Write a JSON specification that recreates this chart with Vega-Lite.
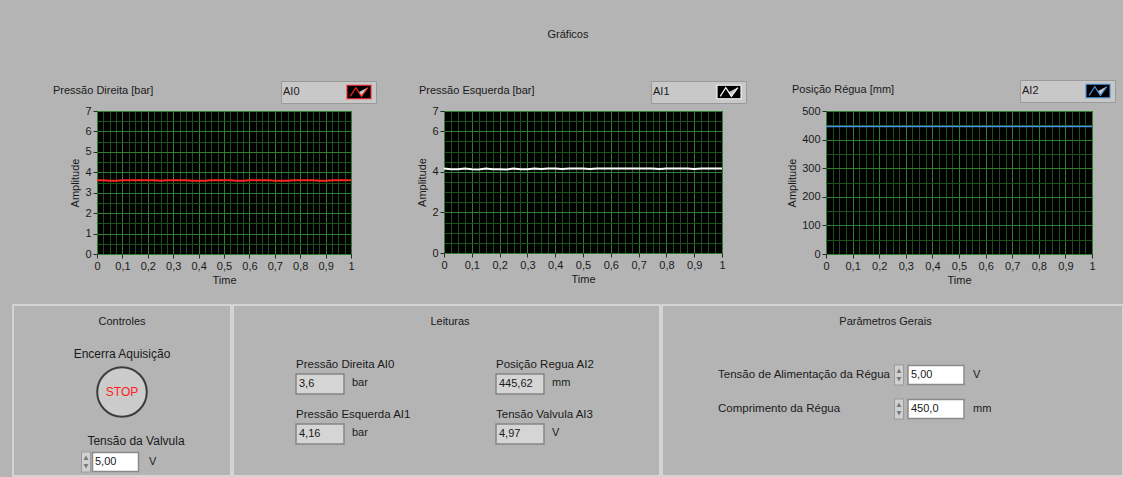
{
  "$schema": "https://vega.github.io/schema/vega-lite/v6.json",
  "background": "#b4b4b4",
  "padding": {"left": 12, "top": 28, "right": 0, "bottom": 0},
  "title": {"text": "Gráficos", "anchor": "middle", "offset": 40},
  "config": {
    "font": "Liberation Sans",
    "title": {"font": "Liberation Sans", "fontSize": 11, "fontWeight": "normal", "color": "#1a1a1a"},
    "axis": {"labelFont": "Liberation Sans", "labelFontSize": 11, "labelColor": "#1a1a1a", "titleFont": "Liberation Sans", "titleFontSize": 11, "titleFontWeight": "normal", "titleColor": "#1a1a1a", "domain": false, "tickColor": "#2a2a2a", "tickSize": 4, "labelPadding": 2},
    "legend": {"labelFont": "Liberation Sans", "titleFont": "Liberation Sans"},
    "text": {"font": "Liberation Sans", "fontSize": 11, "color": "#1a1a1a"}
  },
  "datasets": {
    "ai0": [
      {"t":0,"v":3.61,"canal":"AI0"},{"t":0.025,"v":3.61,"canal":"AI0"},{"t":0.05,"v":3.58,"canal":"AI0"},{"t":0.075,"v":3.59,"canal":"AI0"},{"t":0.1,"v":3.61,"canal":"AI0"},{"t":0.125,"v":3.61,"canal":"AI0"},{"t":0.15,"v":3.61,"canal":"AI0"},{"t":0.175,"v":3.61,"canal":"AI0"},{"t":0.2,"v":3.61,"canal":"AI0"},{"t":0.225,"v":3.61,"canal":"AI0"},{"t":0.25,"v":3.58,"canal":"AI0"},{"t":0.275,"v":3.61,"canal":"AI0"},{"t":0.3,"v":3.61,"canal":"AI0"},{"t":0.325,"v":3.61,"canal":"AI0"},{"t":0.35,"v":3.61,"canal":"AI0"},{"t":0.375,"v":3.58,"canal":"AI0"},{"t":0.4,"v":3.58,"canal":"AI0"},{"t":0.425,"v":3.59,"canal":"AI0"},{"t":0.45,"v":3.61,"canal":"AI0"},{"t":0.475,"v":3.61,"canal":"AI0"},{"t":0.5,"v":3.61,"canal":"AI0"},{"t":0.525,"v":3.61,"canal":"AI0"},{"t":0.55,"v":3.58,"canal":"AI0"},{"t":0.575,"v":3.58,"canal":"AI0"},{"t":0.6,"v":3.61,"canal":"AI0"},{"t":0.625,"v":3.61,"canal":"AI0"},{"t":0.65,"v":3.61,"canal":"AI0"},{"t":0.675,"v":3.61,"canal":"AI0"},{"t":0.7,"v":3.58,"canal":"AI0"},{"t":0.725,"v":3.59,"canal":"AI0"},{"t":0.75,"v":3.58,"canal":"AI0"},{"t":0.775,"v":3.61,"canal":"AI0"},{"t":0.8,"v":3.61,"canal":"AI0"},{"t":0.825,"v":3.61,"canal":"AI0"},{"t":0.85,"v":3.61,"canal":"AI0"},{"t":0.875,"v":3.58,"canal":"AI0"},{"t":0.9,"v":3.58,"canal":"AI0"},{"t":0.925,"v":3.61,"canal":"AI0"},{"t":0.95,"v":3.61,"canal":"AI0"},{"t":0.975,"v":3.61,"canal":"AI0"},{"t":1,"v":3.61,"canal":"AI0"}
    ],
    "ai1": [
      {"t":0,"v":4.16,"canal":"AI1"},{"t":0.025,"v":4.13,"canal":"AI1"},{"t":0.05,"v":4.13,"canal":"AI1"},{"t":0.075,"v":4.16,"canal":"AI1"},{"t":0.1,"v":4.13,"canal":"AI1"},{"t":0.125,"v":4.12,"canal":"AI1"},{"t":0.15,"v":4.16,"canal":"AI1"},{"t":0.175,"v":4.13,"canal":"AI1"},{"t":0.2,"v":4.13,"canal":"AI1"},{"t":0.225,"v":4.12,"canal":"AI1"},{"t":0.25,"v":4.16,"canal":"AI1"},{"t":0.275,"v":4.13,"canal":"AI1"},{"t":0.3,"v":4.13,"canal":"AI1"},{"t":0.325,"v":4.16,"canal":"AI1"},{"t":0.35,"v":4.14,"canal":"AI1"},{"t":0.375,"v":4.16,"canal":"AI1"},{"t":0.4,"v":4.16,"canal":"AI1"},{"t":0.425,"v":4.14,"canal":"AI1"},{"t":0.45,"v":4.16,"canal":"AI1"},{"t":0.475,"v":4.16,"canal":"AI1"},{"t":0.5,"v":4.16,"canal":"AI1"},{"t":0.525,"v":4.14,"canal":"AI1"},{"t":0.55,"v":4.16,"canal":"AI1"},{"t":0.575,"v":4.16,"canal":"AI1"},{"t":0.6,"v":4.16,"canal":"AI1"},{"t":0.625,"v":4.16,"canal":"AI1"},{"t":0.65,"v":4.16,"canal":"AI1"},{"t":0.675,"v":4.16,"canal":"AI1"},{"t":0.7,"v":4.16,"canal":"AI1"},{"t":0.725,"v":4.16,"canal":"AI1"},{"t":0.75,"v":4.16,"canal":"AI1"},{"t":0.775,"v":4.14,"canal":"AI1"},{"t":0.8,"v":4.16,"canal":"AI1"},{"t":0.825,"v":4.16,"canal":"AI1"},{"t":0.85,"v":4.16,"canal":"AI1"},{"t":0.875,"v":4.16,"canal":"AI1"},{"t":0.9,"v":4.14,"canal":"AI1"},{"t":0.925,"v":4.16,"canal":"AI1"},{"t":0.95,"v":4.16,"canal":"AI1"},{"t":0.975,"v":4.16,"canal":"AI1"},{"t":1,"v":4.16,"canal":"AI1"}
    ],
    "ai2": [
      {"t":0,"v":445.62,"canal":"AI2"},{"t":0.025,"v":445.6,"canal":"AI2"},{"t":0.05,"v":445.62,"canal":"AI2"},{"t":0.075,"v":445.65,"canal":"AI2"},{"t":0.1,"v":445.62,"canal":"AI2"},{"t":0.125,"v":445.62,"canal":"AI2"},{"t":0.15,"v":445.6,"canal":"AI2"},{"t":0.175,"v":445.62,"canal":"AI2"},{"t":0.2,"v":445.62,"canal":"AI2"},{"t":0.225,"v":445.65,"canal":"AI2"},{"t":0.25,"v":445.62,"canal":"AI2"},{"t":0.275,"v":445.62,"canal":"AI2"},{"t":0.3,"v":445.6,"canal":"AI2"},{"t":0.325,"v":445.62,"canal":"AI2"},{"t":0.35,"v":445.62,"canal":"AI2"},{"t":0.375,"v":445.62,"canal":"AI2"},{"t":0.4,"v":445.65,"canal":"AI2"},{"t":0.425,"v":445.62,"canal":"AI2"},{"t":0.45,"v":445.62,"canal":"AI2"},{"t":0.475,"v":445.6,"canal":"AI2"},{"t":0.5,"v":445.62,"canal":"AI2"},{"t":0.525,"v":445.62,"canal":"AI2"},{"t":0.55,"v":445.62,"canal":"AI2"},{"t":0.575,"v":445.65,"canal":"AI2"},{"t":0.6,"v":445.62,"canal":"AI2"},{"t":0.625,"v":445.62,"canal":"AI2"},{"t":0.65,"v":445.6,"canal":"AI2"},{"t":0.675,"v":445.62,"canal":"AI2"},{"t":0.7,"v":445.62,"canal":"AI2"},{"t":0.725,"v":445.62,"canal":"AI2"},{"t":0.75,"v":445.65,"canal":"AI2"},{"t":0.775,"v":445.62,"canal":"AI2"},{"t":0.8,"v":445.62,"canal":"AI2"},{"t":0.825,"v":445.6,"canal":"AI2"},{"t":0.85,"v":445.62,"canal":"AI2"},{"t":0.875,"v":445.62,"canal":"AI2"},{"t":0.9,"v":445.62,"canal":"AI2"},{"t":0.925,"v":445.65,"canal":"AI2"},{"t":0.95,"v":445.62,"canal":"AI2"},{"t":0.975,"v":445.62,"canal":"AI2"},{"t":1,"v":445.62,"canal":"AI2"}
    ],
    "controles": [
      {"controle": "Encerra Aquisição", "tipo": "botão", "texto": "STOP"},
      {"controle": "Tensão da Valvula", "tipo": "numérico", "valor": "5,00", "unidade": "V"}
    ],
    "leituras": [
      {"leitura": "Pressão Direita  AI0", "valor": "3,6", "unidade": "bar", "grupo": "Pressões", "ordem": 1},
      {"leitura": "Pressão Esquerda AI1", "valor": "4,16", "unidade": "bar", "grupo": "Pressões", "ordem": 2},
      {"leitura": "Posição Regua AI2", "valor": "445,62", "unidade": "mm", "grupo": "Régua e válvula", "ordem": 1},
      {"leitura": "Tensão Valvula  AI3", "valor": "4,97", "unidade": "V", "grupo": "Régua e válvula", "ordem": 2}
    ],
    "parametros": [
      {"parametro": "Tensão de Alimentação da Régua", "valor": "5,00", "unidade": "V"},
      {"parametro": "Comprimento da Régua", "valor": "450,0", "unidade": "mm"}
    ],
    "vazio": []
  },
  "columns": 1,
  "spacing": 19,
  "resolve": {"scale": {"color": "independent"}, "legend": {"color": "independent"}},
  "concat": [
    {
      "spacing": 39,
      "resolve": {"scale": {"color": "independent"}, "legend": {"color": "independent"}},
      "hconcat": [
        {
          "width": 1, "height": 1,
          "data": {"name": "vazio"},
          "view": {"stroke": null},
          "mark": {"type": "point"},
          "encoding": {}
        },
        {
          "width": 254, "height": 143,
          "title": {"text": "Pressão Direita [bar]", "anchor": "start", "frame": "group", "dx": -44, "offset": -15},
          "view": {"fill": "#000000", "stroke": null},
          "data": {"name": "ai0"},
          "resolve": {"axis": {"x": "independent", "y": "independent"}},
          "layer": [
            {
              "mark": {"type": "point", "opacity": 0},
              "encoding": {
                "x": {"field": "t", "type": "quantitative", "scale": {"domain": [0, 1], "nice": false, "zero": false},
                  "axis": {"orient": "top", "values": [0,0.025,0.05,0.075,0.1,0.125,0.15,0.175,0.2,0.225,0.25,0.275,0.3,0.325,0.35,0.375,0.4,0.425,0.45,0.475,0.5,0.525,0.55,0.575,0.6,0.625,0.65,0.675,0.7,0.725,0.75,0.775,0.8,0.825,0.85,0.875,0.9,0.925,0.95,0.975,1], "grid": true, "gridColor": "#1b521b", "labels": false, "ticks": false, "domain": false, "title": null}},
                "y": {"field": "v", "type": "quantitative", "scale": {"domain": [0, 7], "nice": false},
                  "axis": {"orient": "right", "values": [0,0.5,1,1.5,2,2.5,3,3.5,4,4.5,5,5.5,6,6.5,7], "grid": true, "gridColor": "#1b521b", "labels": false, "ticks": false, "domain": false, "title": null}}
              }
            },
            {
              "mark": {"type": "line", "strokeWidth": 2, "clip": true},
              "encoding": {
                "x": {"field": "t", "type": "quantitative",
                  "axis": {"orient": "bottom", "values": [0,0.1,0.2,0.3,0.4,0.5,0.6,0.7,0.8,0.9,1], "grid": true, "gridColor": "#2e7f2e", "labelExpr": "replace(format(datum.value, '~g'), '.', ',')", "title": "Time", "titlePadding": 3, "labelFlush": false}},
                "y": {"field": "v", "type": "quantitative",
                  "axis": {"orient": "left", "values": [0,1,2,3,4,5,6,7], "grid": true, "gridColor": "#2e7f2e", "title": "Amplitude", "titlePadding": 4}},
                "color": {"field": "canal", "type": "nominal", "scale": {"domain": ["AI0"], "range": ["#ff2424"]},
                  "legend": {"orient": "none", "legendX": 184, "legendY": -30, "title": "AI0", "titleOrient": "left", "titleFontSize": 11, "titleFontWeight": "normal", "titleColor": "#1a1a1a", "titlePadding": 50, "labelExpr": "''", "labelOffset": 6, "symbolType": "M-1.5,-0.85H1.5V0.85H-1.5Z M-1.1,0.55L-0.4,-0.55L0.3,0.55L1.1,-0.55", "symbolSize": 256, "symbolStrokeWidth": 1.1, "fillColor": "#c8c8c8", "strokeColor": "#9a9a9a", "padding": 2,
                    "encode": {"symbols": {"update": {"fill": {"value": "#000000"}, "opacity": {"value": 1}}}}}}
              }
            }
          ]
        },
        {
          "width": 278, "height": 142,
          "title": {"text": "Pressão Esquerda [bar]", "anchor": "start", "frame": "group", "dx": -25, "offset": -15},
          "view": {"fill": "#000000", "stroke": null},
          "data": {"name": "ai1"},
          "resolve": {"axis": {"x": "independent", "y": "independent"}},
          "layer": [
            {
              "mark": {"type": "point", "opacity": 0},
              "encoding": {
                "x": {"field": "t", "type": "quantitative", "scale": {"domain": [0, 1], "nice": false, "zero": false},
                  "axis": {"orient": "top", "values": [0,0.025,0.05,0.075,0.1,0.125,0.15,0.175,0.2,0.225,0.25,0.275,0.3,0.325,0.35,0.375,0.4,0.425,0.45,0.475,0.5,0.525,0.55,0.575,0.6,0.625,0.65,0.675,0.7,0.725,0.75,0.775,0.8,0.825,0.85,0.875,0.9,0.925,0.95,0.975,1], "grid": true, "gridColor": "#1b521b", "labels": false, "ticks": false, "domain": false, "title": null}},
                "y": {"field": "v", "type": "quantitative", "scale": {"domain": [0, 7], "nice": false},
                  "axis": {"orient": "right", "values": [0,0.5,1,1.5,2,2.5,3,3.5,4,4.5,5,5.5,6,6.5,7], "grid": true, "gridColor": "#1b521b", "labels": false, "ticks": false, "domain": false, "title": null}}
              }
            },
            {
              "mark": {"type": "line", "strokeWidth": 2, "clip": true},
              "encoding": {
                "x": {"field": "t", "type": "quantitative",
                  "axis": {"orient": "bottom", "values": [0,0.1,0.2,0.3,0.4,0.5,0.6,0.7,0.8,0.9,1], "grid": true, "gridColor": "#2e7f2e", "labelExpr": "replace(format(datum.value, '~g'), '.', ',')", "title": "Time", "titlePadding": 3, "labelFlush": false}},
                "y": {"field": "v", "type": "quantitative",
                  "axis": {"orient": "left", "values": [0,2,4,6,7], "grid": true, "gridColor": "#2e7f2e", "title": "Amplitude", "titlePadding": 4}},
                "color": {"field": "canal", "type": "nominal", "scale": {"domain": ["AI1"], "range": ["#ffffff"]},
                  "legend": {"orient": "none", "legendX": 207, "legendY": -30, "title": "AI1", "titleOrient": "left", "titleFontSize": 11, "titleFontWeight": "normal", "titleColor": "#1a1a1a", "titlePadding": 50, "labelExpr": "''", "labelOffset": 6, "symbolType": "M-1.5,-0.85H1.5V0.85H-1.5Z M-1.1,0.55L-0.4,-0.55L0.3,0.55L1.1,-0.55", "symbolSize": 256, "symbolStrokeWidth": 1.1, "fillColor": "#c8c8c8", "strokeColor": "#9a9a9a", "padding": 2,
                    "encode": {"symbols": {"update": {"fill": {"value": "#000000"}, "opacity": {"value": 1}}}}}}
              }
            }
          ]
        },
        {
          "width": 266, "height": 143,
          "title": {"text": "Posição Régua [mm]", "anchor": "start", "frame": "group", "dx": -34, "offset": -15},
          "view": {"fill": "#000000", "stroke": null},
          "data": {"name": "ai2"},
          "resolve": {"axis": {"x": "independent", "y": "independent"}},
          "layer": [
            {
              "mark": {"type": "point", "opacity": 0},
              "encoding": {
                "x": {"field": "t", "type": "quantitative", "scale": {"domain": [0, 1], "nice": false, "zero": false},
                  "axis": {"orient": "top", "values": [0,0.025,0.05,0.075,0.1,0.125,0.15,0.175,0.2,0.225,0.25,0.275,0.3,0.325,0.35,0.375,0.4,0.425,0.45,0.475,0.5,0.525,0.55,0.575,0.6,0.625,0.65,0.675,0.7,0.725,0.75,0.775,0.8,0.825,0.85,0.875,0.9,0.925,0.95,0.975,1], "grid": true, "gridColor": "#1b521b", "labels": false, "ticks": false, "domain": false, "title": null}},
                "y": {"field": "v", "type": "quantitative", "scale": {"domain": [0, 500], "nice": false},
                  "axis": {"orient": "right", "values": [0,50,100,150,200,250,300,350,400,450,500], "grid": true, "gridColor": "#1b521b", "labels": false, "ticks": false, "domain": false, "title": null}}
              }
            },
            {
              "mark": {"type": "line", "strokeWidth": 1.6, "clip": true},
              "encoding": {
                "x": {"field": "t", "type": "quantitative",
                  "axis": {"orient": "bottom", "values": [0,0.1,0.2,0.3,0.4,0.5,0.6,0.7,0.8,0.9,1], "grid": true, "gridColor": "#2e7f2e", "labelExpr": "replace(format(datum.value, '~g'), '.', ',')", "title": "Time", "titlePadding": 3, "labelFlush": false}},
                "y": {"field": "v", "type": "quantitative",
                  "axis": {"orient": "left", "values": [0,100,200,300,400,500], "grid": true, "gridColor": "#2e7f2e", "title": "Amplitude", "titlePadding": 4}},
                "color": {"field": "canal", "type": "nominal", "scale": {"domain": ["AI2"], "range": ["#4a8fe0"]},
                  "legend": {"orient": "none", "legendX": 194, "legendY": -31, "title": "AI2", "titleOrient": "left", "titleFontSize": 11, "titleFontWeight": "normal", "titleColor": "#1a1a1a", "titlePadding": 50, "labelExpr": "''", "labelOffset": 6, "symbolType": "M-1.5,-0.85H1.5V0.85H-1.5Z M-1.1,0.55L-0.4,-0.55L0.3,0.55L1.1,-0.55", "symbolSize": 256, "symbolStrokeWidth": 1.1, "fillColor": "#c8c8c8", "strokeColor": "#9a9a9a", "padding": 2,
                    "encode": {"symbols": {"update": {"fill": {"value": "#000000"}, "opacity": {"value": 1}}}}}}
              }
            }
          ]
        }
      ]
    },
    {
      "spacing": 0,
      "hconcat": [
        {
          "width": 218, "height": 171,
          "title": {"text": "Controles", "anchor": "middle", "frame": "group", "offset": -22},
          "view": {"stroke": "#dedede", "strokeWidth": 1.5},
          "data": {"name": "controles"},
          "encoding": {
            "x": {"field": "controle", "type": "nominal", "scale": {"type": "point", "padding": 0, "domain": ["Encerra Aquisição", "Tensão da Valvula"], "range": [109, 123]}, "axis": null},
            "y": {"field": "controle", "type": "nominal", "scale": {"type": "point", "padding": 0, "domain": ["Encerra Aquisição", "Tensão da Valvula"], "range": [49, 136]}, "axis": null}
          },
          "layer": [
            {"mark": {"type": "text", "fontSize": 12}, "encoding": {"text": {"field": "controle"}}},
            {"transform": [{"filter": "datum.tipo === 'botão'"}], "mark": {"type": "point", "shape": "circle", "size": 2460, "filled": true, "fill": "#cbcbcb", "stroke": "#3c3c3c", "strokeWidth": 2, "opacity": 1, "yOffset": 38}},
            {"transform": [{"filter": "datum.tipo === 'botão'"}], "mark": {"type": "text", "color": "#ff2020", "fontSize": 12, "yOffset": 38}, "encoding": {"text": {"field": "texto"}}},
            {"transform": [{"filter": "datum.tipo === 'numérico'"}], "mark": {"type": "point", "shape": "M-0.45,-1H0.45V1H-0.45Z", "size": 400, "filled": true, "fill": "#d0d0d0", "stroke": "#9a9a9a", "strokeWidth": 1, "opacity": 1, "xOffset": -50, "yOffset": 21}},
            {"transform": [{"filter": "datum.tipo === 'numérico'"}], "mark": {"type": "point", "shape": "M-0.25,-0.2L0,-0.65L0.25,-0.2Z M-0.25,0.2L0,0.65L0.25,0.2Z", "size": 400, "filled": true, "fill": "#7a7a7a", "strokeWidth": 0, "opacity": 1, "xOffset": -50, "yOffset": 21}},
            {"transform": [{"filter": "datum.tipo === 'numérico'"}], "mark": {"type": "point", "shape": "M-1,-0.41H1V0.41H-1Z", "size": 2116, "filled": true, "fill": "#ffffff", "stroke": "#8a8a8a", "strokeWidth": 1.5, "opacity": 1, "xOffset": -20.5, "yOffset": 21}},
            {"transform": [{"filter": "datum.tipo === 'numérico'"}], "mark": {"type": "text", "align": "left", "xOffset": -41, "yOffset": 21}, "encoding": {"text": {"field": "valor"}}},
            {"transform": [{"filter": "datum.tipo === 'numérico'"}], "mark": {"type": "text", "align": "left", "xOffset": 13, "yOffset": 21}, "encoding": {"text": {"field": "unidade"}}}
          ]
        },
        {
          "width": 427, "height": 171,
          "title": {"text": "Leituras", "anchor": "middle", "frame": "group", "offset": -22, "dx": 3.5},
          "view": {"stroke": "#dedede", "strokeWidth": 1.5},
          "data": {"name": "leituras"},
          "encoding": {
            "x": {"field": "grupo", "type": "nominal", "scale": {"type": "point", "padding": 0, "domain": ["Pressões", "Régua e válvula"], "range": [63, 263]}, "axis": null},
            "y": {"field": "ordem", "type": "ordinal", "scale": {"type": "point", "padding": 0, "domain": [1, 2], "range": [60, 110]}, "axis": null}
          },
          "layer": [
            {"mark": {"type": "text", "align": "left", "fontSize": 11.5}, "encoding": {"text": {"field": "leitura"}}},
            {"mark": {"type": "point", "shape": "M-1,-0.42H1V0.42H-1Z", "size": 2304, "filled": true, "fill": "#d5d5d5", "stroke": "#858585", "strokeWidth": 1.5, "opacity": 1, "xOffset": 24, "yOffset": 19}},
            {"mark": {"type": "text", "align": "left", "xOffset": 3, "yOffset": 19}, "encoding": {"text": {"field": "valor"}}},
            {"mark": {"type": "text", "align": "left", "xOffset": 56, "yOffset": 18}, "encoding": {"text": {"field": "unidade"}}}
          ]
        },
        {
          "width": 461, "height": 171,
          "title": {"text": "Parâmetros Gerais", "anchor": "middle", "frame": "group", "offset": -22, "dx": -7},
          "view": {"stroke": "#dedede", "strokeWidth": 1.5},
          "data": {"name": "parametros"},
          "encoding": {
            "y": {"field": "parametro", "type": "nominal", "scale": {"type": "point", "padding": 0, "domain": ["Tensão de Alimentação da Régua", "Comprimento da Régua"], "range": [70, 104]}, "axis": null}
          },
          "layer": [
            {"mark": {"type": "text", "align": "left", "fontSize": 11.5, "xOffset": -174.5}, "encoding": {"text": {"field": "parametro"}}},
            {"mark": {"type": "point", "shape": "M-0.45,-1H0.45V1H-0.45Z", "size": 400, "filled": true, "fill": "#d0d0d0", "stroke": "#9a9a9a", "strokeWidth": 1, "opacity": 1, "xOffset": 6.5}},
            {"mark": {"type": "point", "shape": "M-0.25,-0.2L0,-0.65L0.25,-0.2Z M-0.25,0.2L0,0.65L0.25,0.2Z", "size": 400, "filled": true, "fill": "#7a7a7a", "strokeWidth": 0, "opacity": 1, "xOffset": 6.5}},
            {"mark": {"type": "point", "shape": "M-1,-0.34H1V0.34H-1Z", "size": 3136, "filled": true, "fill": "#ffffff", "stroke": "#8a8a8a", "strokeWidth": 1.5, "opacity": 1, "xOffset": 43.5}},
            {"mark": {"type": "text", "align": "left", "xOffset": 18.5}, "encoding": {"text": {"field": "valor"}}},
            {"mark": {"type": "text", "align": "left", "xOffset": 80.5}, "encoding": {"text": {"field": "unidade"}}}
          ]
        }
      ]
    }
  ]
}
